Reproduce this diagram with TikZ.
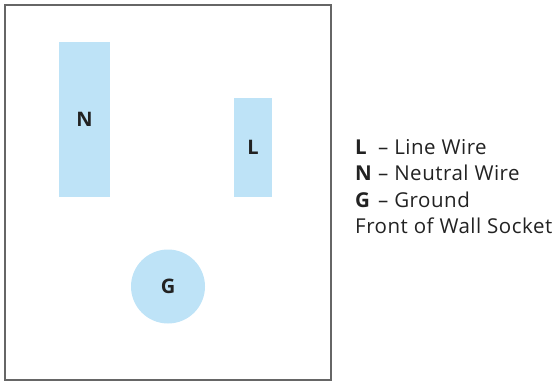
\documentclass[tikz,border=0pt]{standalone}
\usepackage{fontspec}
\setmainfont{Open Sans}
\newfontfamily\legendfont[LetterSpace=2.5]{Open Sans}
\definecolor{pin}{HTML}{BEE3F7}
\definecolor{frame}{HTML}{666666}
\definecolor{ink}{HTML}{222222}
\begin{document}
\begin{tikzpicture}[x=1pt,y=-1pt,
  pinrect/.style={fill=pin,draw=none,inner sep=0pt,font=\fontsize{20}{24}\selectfont\bfseries,text=ink},
  legend/.style={anchor=base west,font=\legendfont\fontsize{20.5}{24}\selectfont,text=ink,inner sep=0pt}]
\useasboundingbox (0,0) rectangle (556,381);
\draw[frame,line width=1.6pt] (5,5) rectangle (331,380);
\node[pinrect,minimum width=51pt,minimum height=155pt] (N) at (84.5,119.5) {N};
\node[pinrect,minimum width=38pt,minimum height=99pt] (L) at (253,147.5) {L};
\node[pinrect,circle,minimum size=74pt] (G) at (168,286.5) {G};
\node[legend] (lL) at (355,154) {\makebox[23pt][l]{\bfseries L}– Line Wire};
\node[legend] (lN) at (355,180.5) {\makebox[23pt][l]{\bfseries N}– Neutral Wire};
\node[legend] (lG) at (355,207) {\makebox[23pt][l]{\bfseries G}– Ground};
\node[legend] (lF) at (355,233.5) {Front of Wall Socket};
\end{tikzpicture}
\end{document}
